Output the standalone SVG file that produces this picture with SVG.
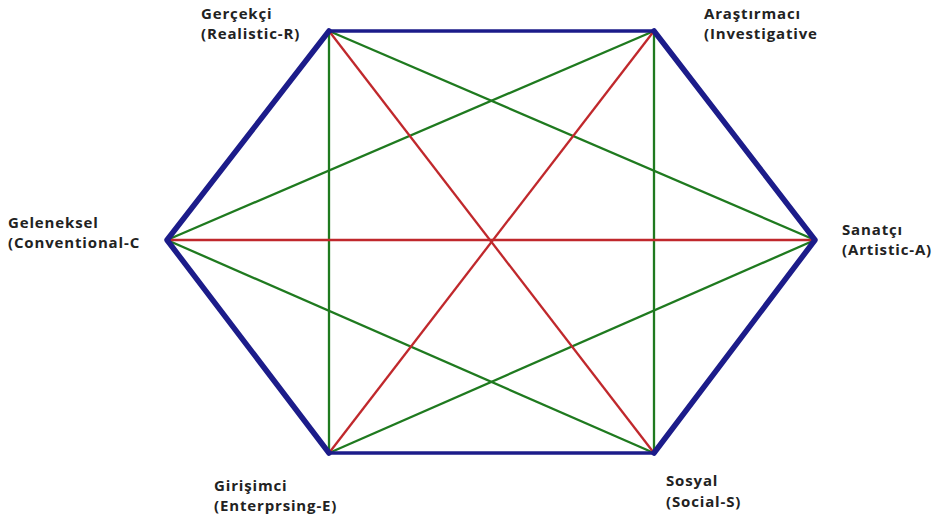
<svg xmlns="http://www.w3.org/2000/svg" width="940" height="523" viewBox="0 0 940 523">
<style>
.hex{stroke:#1c1c8a;stroke-width:5.5;stroke-linecap:round;stroke-linejoin:round;fill:none}
.hz{stroke:#1c1c8a;stroke-width:3.5;fill:none}
.g{stroke:#1f7a1f;stroke-width:2.3;fill:none}
.r{stroke:#c0282c;stroke-width:2.3;fill:none}
text{font-family:"Open Sans","Liberation Sans",sans-serif;font-weight:bold;font-size:15px;letter-spacing:0.85px;fill:#222}
</style>
<rect width="940" height="523" fill="#fff"/>
<g id="connectors">
<line class="g" x1="329" y1="31" x2="329" y2="453"/>
<line class="g" x1="654" y1="31" x2="654" y2="453"/>
<line class="g" x1="329" y1="31" x2="815" y2="240"/>
<line class="g" x1="654" y1="31" x2="167" y2="240"/>
<line class="g" x1="167" y1="240" x2="654" y2="453"/>
<line class="g" x1="815" y1="240" x2="329" y2="453"/>
<line class="r" x1="329" y1="31" x2="654" y2="453"/>
<line class="r" x1="654" y1="31" x2="329" y2="453"/>
<line class="r" x1="167" y1="240" x2="815" y2="240"/>
<line class="hz" x1="329" y1="31" x2="654" y2="31"/>
<line class="hz" x1="329" y1="453" x2="654" y2="453"/>
<polyline class="hex" points="654,31 815,240 654,453"/>
<polyline class="hex" points="329,31 167,240 329,453"/>
</g>
<g id="node-R"><text x="201" y="19">Gerçekçi</text><text x="201" y="39">(Realistic-R)</text></g>
<g id="node-I"><text x="704" y="19">Araştırmacı</text><text x="704" y="39">(Investigative</text></g>
<g id="node-C"><text x="8" y="228">Geleneksel</text><text x="8" y="248">(Conventional-C</text></g>
<g id="node-A"><text x="842" y="235">Sanatçı</text><text x="842" y="255">(Artistic-A)</text></g>
<g id="node-E"><text x="214" y="491">Girişimci</text><text x="214" y="511">(Enterprsing-E)</text></g>
<g id="node-S"><text x="666" y="486">Sosyal</text><text x="666" y="507">(Social-S)</text></g>
</svg>
